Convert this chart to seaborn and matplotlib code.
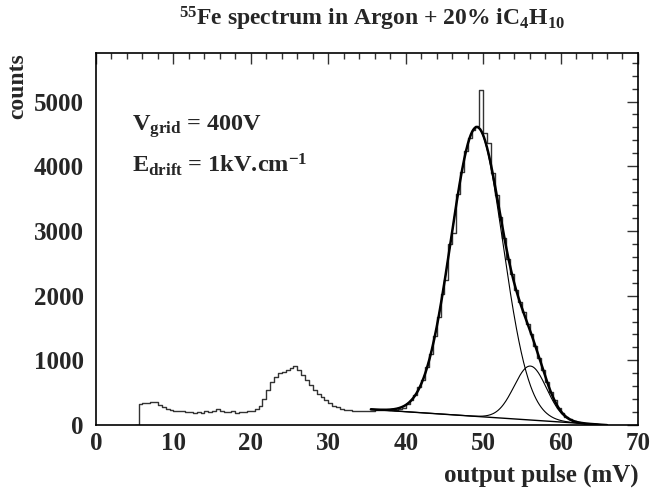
import numpy as np
import pandas as pd
import seaborn as sns
import matplotlib
matplotlib.use('Agg')
from matplotlib import pyplot as plt
from matplotlib.ticker import MultipleLocator

# histogram: 0.5 mV bins, first bin starts at 5.0 mV
bin_start = 5.0
bin_width = 0.5
counts = [0, 330, 340, 345, 360, 350, 311, 282, 253, 238,
          224, 214, 209, 194, 204, 185, 199, 190, 209, 204,
          219, 243, 224, 204, 194, 209, 190, 199, 194, 209,
          219, 243, 292, 408, 544, 661, 748, 797, 826, 846,
          875, 909, 846, 778, 690, 612, 544, 476, 428, 389,
          340, 301, 277, 253, 238, 228, 219, 209, 214, 209,
          224, 219, 233, 228, 238, 233, 248, 238, 243, 267,
          321, 389, 457, 583, 700, 904, 1098, 1380, 1662, 2022,
          2236, 2799, 2965, 3577, 3907, 4228, 4432, 4559, 4617, 5171,
          4510, 4355, 3888, 3548, 3208, 2897, 2566, 2333, 2090, 1905,
          1740, 1555, 1400, 1215, 1030, 855, 671, 505, 379, 262,
          185, 126, 87, 58, 39, 29, 21, 15, 10, 6,
          3, 0]

# fit result: linear background + two gaussians
fit_range = (35.5, 66.0)
bg_slope = -7.97
bg_zero = 65.8
peak1 = dict(amp=4470, mean=49.2, sigma=3.35)
peak2 = dict(amp=834, mean=56.1, sigma=2.1)

n = len(counts)
centers = bin_start + bin_width * (np.arange(n) + 0.5)
hist = pd.DataFrame({'pulse': centers, 'counts': counts})

xf = np.linspace(fit_range[0], fit_range[1], 400)
bg = bg_slope * (xf - bg_zero)
g1 = peak1['amp'] * np.exp(-0.5 * ((xf - peak1['mean']) / peak1['sigma']) ** 2)
g2 = peak2['amp'] * np.exp(-0.5 * ((xf - peak2['mean']) / peak2['sigma']) ** 2)
fit = pd.DataFrame({'pulse': xf, 'bg': bg, 'p1': bg + g1, 'p2': bg + g2, 'total': bg + g1 + g2})

sns.set_style('white')
plt.rcParams['font.family'] = ['Liberation Serif', 'DejaVu Serif']
plt.rcParams['font.weight'] = 'bold'
plt.rcParams['mathtext.fontset'] = 'custom'
plt.rcParams['mathtext.rm'] = 'Liberation Serif:bold'
plt.rcParams['mathtext.it'] = 'Liberation Serif:bold'
plt.rcParams['mathtext.bf'] = 'Liberation Serif:bold'
plt.rcParams['mathtext.default'] = 'rm'

fig = plt.figure(figsize=(6.5, 4.91), dpi=100)
ax = fig.add_axes([0.1477, 0.1344, 0.8338, 0.7576])

sns.histplot(data=hist, x='pulse', weights='counts', binwidth=bin_width,
             binrange=(bin_start, bin_start + n * bin_width), element='step',
             fill=False, color='#333333', linewidth=1.0, ax=ax)
sns.lineplot(data=fit, x='pulse', y='bg', color='black', linewidth=1.0, ax=ax)
sns.lineplot(data=fit, x='pulse', y='p1', color='black', linewidth=0.8, ax=ax)
sns.lineplot(data=fit, x='pulse', y='p2', color='black', linewidth=0.8, ax=ax)
sns.lineplot(data=fit, x='pulse', y='total', color='black', linewidth=1.8, ax=ax)

ax.set_xlim(0, 70)
ax.set_ylim(0, 5750)
ax.set_xlabel('')
ax.set_ylabel('')
ax.xaxis.set_major_locator(MultipleLocator(10))
ax.xaxis.set_minor_locator(MultipleLocator(2))
ax.yaxis.set_major_locator(MultipleLocator(1000))
ax.yaxis.set_minor_locator(MultipleLocator(200))
ax.tick_params(which='both', direction='in', top=True, right=True, width=1.0, color='#333333')
ax.tick_params(which='major', length=8, labelsize=18)
ax.tick_params(axis='y', which='major', pad=9)
ax.tick_params(axis='x', which='major', pad=5)
ax.tick_params(which='minor', length=4)
for s in ax.spines.values():
    s.set_linewidth(1.2)
    s.set_color('black')

ax.text(4.7, 4550, 'V$_{grid}$ = 400V', fontsize=17.5)
ax.text(4.7, 3910, 'E$_{drift}$ = 1kV.cm$^{-1}$', fontsize=17.5)

fig.text(0.573, 0.962, '$^{55}$Fe spectrum in Argon + 20% iC$_4$H$_{10}$',
         ha='center', va='center', fontsize=17)
fig.text(0.028, 0.892, 'counts', rotation=90, ha='center', va='top', fontsize=17)
fig.text(0.982, 0.031, 'output pulse (mV)', ha='right', va='center', fontsize=18)

fig.savefig('out.png', dpi=100)
